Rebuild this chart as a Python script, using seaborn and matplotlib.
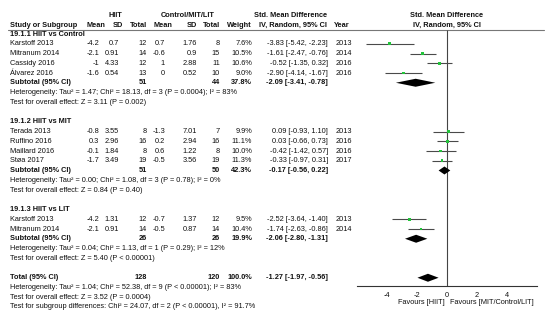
import matplotlib.pyplot as plt
import matplotlib.patches as mpatches
import pandas as pd
import seaborn as sns

# --- data ---
group_titles = ["19.1.1 HIIT vs Control", "19.1.2 HIIT vs MIT", "19.1.3 HIIT vs LIT"]
study = ["Karstoff 2013", "Mitranum 2014", "Cassidy 2016", "Álvarez 2016",
         "Terada 2013", "Ruffino 2016", "Maillard 2016", "Støa 2017",
         "Karstoff 2013", "Mitranum 2014"]
group = [0, 0, 0, 0, 1, 1, 1, 1, 2, 2]
hiit_mean = [-4.2, -2.1, -1, -1.6, -0.8, 0.3, -0.1, -1.7, -4.2, -2.1]
hiit_sd = [0.7, 0.91, 4.33, 0.54, 3.55, 2.96, 1.84, 3.49, 1.31, 0.91]
hiit_n = [12, 14, 12, 13, 8, 16, 8, 19, 12, 14]
ctrl_mean = [0.7, -0.6, 1, 0, -1.3, 0.2, 0.6, -0.5, -0.7, -0.5]
ctrl_sd = [1.76, 0.9, 2.88, 0.52, 7.01, 2.94, 1.22, 3.56, 1.37, 0.87]
ctrl_n = [8, 15, 11, 10, 7, 16, 8, 19, 12, 14]
weight = [7.6, 10.5, 10.6, 9.0, 9.9, 11.1, 10.0, 11.3, 9.5, 10.4]
smd = [-3.83, -1.61, -0.52, -2.90, 0.09, 0.03, -0.42, -0.33, -2.52, -1.74]
ci_lo = [-5.42, -2.47, -1.35, -4.14, -0.93, -0.66, -1.42, -0.97, -3.64, -2.63]
ci_hi = [-2.23, -0.76, 0.32, -1.67, 1.10, 0.73, 0.57, 0.31, -1.40, -0.86]
year = [2013, 2014, 2016, 2016, 2013, 2016, 2016, 2017, 2013, 2014]

sub_hiit_n = [51, 51, 26]
sub_ctrl_n = [44, 50, 26]
sub_weight = [37.8, 42.3, 19.9]
sub_smd = [-2.09, -0.17, -2.06]
sub_lo = [-3.41, -0.56, -2.80]
sub_hi = [-0.78, 0.22, -1.31]
sub_het = ["Heterogeneity: Tau² = 1.47; Chi² = 18.13, df = 3 (P = 0.0004); I² = 83%",
           "Heterogeneity: Tau² = 0.00; Chi² = 1.08, df = 3 (P = 0.78); I² = 0%",
           "Heterogeneity: Tau² = 0.04; Chi² = 1.13, df = 1 (P = 0.29); I² = 12%"]
sub_test = ["Test for overall effect: Z = 3.11 (P = 0.002)",
            "Test for overall effect: Z = 0.84 (P = 0.40)",
            "Test for overall effect: Z = 5.40 (P < 0.00001)"]

total_hiit_n, total_ctrl_n, total_weight = 128, 120, 100.0
total_smd, total_lo, total_hi = -1.27, -1.97, -0.56
total_notes = ["Heterogeneity: Tau² = 1.04; Chi² = 52.38, df = 9 (P < 0.00001); I² = 83%",
               "Test for overall effect: Z = 3.52 (P = 0.0004)",
               "Test for subgroup differences: Chi² = 24.07, df = 2 (P < 0.00001), I² = 91.7%"]

df = pd.DataFrame(dict(study=study, group=group, smd=smd, lo=ci_lo, hi=ci_hi))

# --- layout (pixel coordinates of a 550x322 canvas) ---
W, H = 550, 322
STEP = 9.75
FS = 5.3
col = dict(name=10, hm=99, hsd=119, hn=147, cm=165, csd=197, cn=220,
           w=252, ci=328, yr=336)

sns.set_style("white")
plt.rcParams["font.family"] = ["Liberation Sans", "DejaVu Sans"]
plt.rcParams["axes.unicode_minus"] = False

fig = plt.figure(figsize=(5.5, 3.22), dpi=100)
tx = fig.add_axes([0, 0, 1, 1])
tx.set_xlim(0, W)
tx.set_ylim(H, 0)
tx.axis("off")

AXIS_Y = 286
fx = fig.add_axes([357 / W, (H - AXIS_Y) / H, 180 / W, AXIS_Y / H])
fx.set_xlim(-6, 6)
fx.set_ylim(AXIS_Y, 0)
fx.patch.set_alpha(0)


def put(x, y, s, ha="left", bold=False):
    tx.text(x, y, s, ha=ha, va="center", fontsize=FS,
            fontweight="bold" if bold else "normal", color="#111111")


def diamond(y, est, lo, hi):
    fx.add_patch(mpatches.Polygon([[lo, y], [est, y - 4], [hi, y], [est, y + 4]],
                                  closed=True, color="black", lw=0, zorder=4))


# headers
put(115, 15, "HIIT", ha="center", bold=True)
put(188, 15, "Control/MIT/LIT", ha="center", bold=True)
put(291, 15, "Std. Mean Difference", ha="center", bold=True)
put(447, 15, "Std. Mean Difference", ha="center", bold=True)
put(col["name"], 25, "Study or Subgroup", bold=True)
for key, lab in [("hm", "Mean"), ("hsd", "SD"), ("hn", "Total"), ("cm", "Mean"),
                 ("csd", "SD"), ("cn", "Total"), ("w", "Weight")]:
    dx = {"hm": 6, "hsd": 4, "cm": 7}.get(key, 0)
    put(col[key] + dx, 25, lab, ha="right", bold=True)
put(293, 25, "IV, Random, 95% CI", ha="center", bold=True)
put(col["yr"] - 2, 25, "Year", bold=True)
put(447, 25, "IV, Random, 95% CI", ha="center", bold=True)
tx.plot([8, 544], [29.5, 29.5], color="#777777", lw=0.8)

# rows
y = 34.0
study_y = []
for g, title in enumerate(group_titles):
    put(col["name"], y, title, bold=True)
    y += STEP
    for i in df.index[df.group == g]:
        put(col["name"], y, study[i])
        put(col["hm"], y, f"{hiit_mean[i]:g}", ha="right")
        put(col["hsd"], y, f"{hiit_sd[i]:g}", ha="right")
        put(col["hn"], y, str(hiit_n[i]), ha="right")
        put(col["cm"], y, f"{ctrl_mean[i]:g}", ha="right")
        put(col["csd"], y, f"{ctrl_sd[i]:g}", ha="right")
        put(col["cn"], y, str(ctrl_n[i]), ha="right")
        put(col["w"], y, f"{weight[i]:.1f}%", ha="right")
        put(col["ci"], y, f"{smd[i]:.2f} [{ci_lo[i]:.2f}, {ci_hi[i]:.2f}]", ha="right")
        put(col["yr"], y, str(year[i]))
        study_y.append(y)
        y += STEP
    put(col["name"], y, "Subtotal (95% CI)", bold=True)
    put(col["hn"], y, str(sub_hiit_n[g]), ha="right", bold=True)
    put(col["cn"], y, str(sub_ctrl_n[g]), ha="right", bold=True)
    put(col["w"], y, f"{sub_weight[g]:.1f}%", ha="right", bold=True)
    put(col["ci"], y, f"{sub_smd[g]:.2f} [{sub_lo[g]:.2f}, {sub_hi[g]:.2f}]",
        ha="right", bold=True)
    diamond(y, sub_smd[g], sub_lo[g], sub_hi[g])
    y += STEP
    put(col["name"], y, sub_het[g])
    y += STEP
    put(col["name"], y, sub_test[g])
    y += 2 * STEP

put(col["name"], y, "Total (95% CI)", bold=True)
put(col["hn"], y, str(total_hiit_n), ha="right", bold=True)
put(col["cn"], y, str(total_ctrl_n), ha="right", bold=True)
put(col["w"], y, f"{total_weight:.1f}%", ha="right", bold=True)
put(col["ci"], y, f"{total_smd:.2f} [{total_lo:.2f}, {total_hi:.2f}]", ha="right", bold=True)
diamond(y, total_smd, total_lo, total_hi)
for note in total_notes:
    y += STEP
    put(col["name"], y, note)

# forest plot marks
df["y"] = study_y
fx.hlines(df["y"], df["lo"], df["hi"], color="#4a4a4a", lw=0.8, zorder=2)
sns.scatterplot(data=df, x="smd", y="y", marker="s", s=4, color="#22c33a",
                edgecolor="none", ax=fx, zorder=3, legend=False)
fx.vlines(0, 29.5, AXIS_Y, color="#444444", lw=0.8, zorder=1)

fx.set_xlabel("")
fx.set_ylabel("")
fx.set_yticks([])
fx.set_xticks([-4, -2, 0, 2, 4])
fx.tick_params(axis="x", length=3, width=0.7, pad=1, labelsize=FS, colors="#111111")
for side in ("top", "left", "right"):
    fx.spines[side].set_visible(False)
fx.spines["bottom"].set_linewidth(0.8)
fx.spines["bottom"].set_color("#333333")

put(445, 302, "Favours [HIIT]", ha="right")
put(450, 302, "Favours [MIT/Control/LIT]")

fig.savefig("out.png", dpi=100)
